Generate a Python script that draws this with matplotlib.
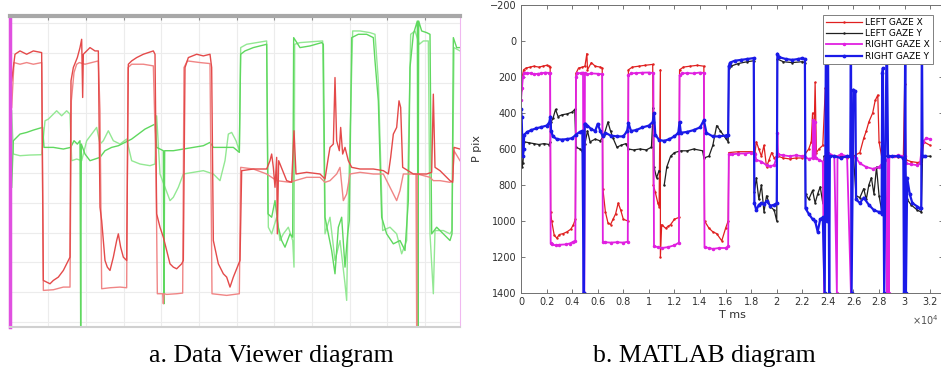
import matplotlib
matplotlib.use('Agg')
import matplotlib.pyplot as plt
import numpy as np

# ---- left panel (Data Viewer), values in the viewer's own screen units ----
red_a_x = [35, 40, 45, 60, 80, 100, 125, 130, 140, 150, 160, 175, 190, 200, 210, 213, 220, 232, 240, 245, 248, 250,
           260, 270, 285, 295, 300, 305, 315, 322, 330, 340, 350, 355, 362, 370, 380, 385, 395, 410, 430, 445, 460,
           465, 470, 480, 490, 500, 510, 520, 530, 545, 550, 555, 565, 590, 610, 630, 635, 640, 655, 670, 680, 690,
           700, 712, 720, 725, 760, 800, 810, 815, 820, 825, 830, 832, 836, 860, 875, 882, 888, 920, 960, 975, 985,
           990, 1000, 1005, 1010, 1018, 1022, 1028, 1035, 1045, 1055, 1080, 1120, 1150, 1165, 1172, 1180, 1190, 1197,
           1202, 1208, 1240, 1280, 1295, 1300, 1305, 1320, 1350, 1358, 1362, 1380]
red_a_y = [240, 200, 160, 150, 160, 150, 155, 840, 845, 850, 840, 830, 810, 790, 770, 240, 200, 170, 140, 115, 290, 160,
           150, 140, 150, 150, 620, 660, 780, 800, 810, 770, 720, 700, 740, 770, 780, 190, 180, 170, 160, 155, 150,
           160, 640, 680, 710, 750, 790, 800, 805, 790, 780, 200, 170, 160, 165, 160, 200, 720, 790, 820, 830, 860,
           830, 800, 780, 510, 505, 505, 480, 460, 500, 560, 470, 700, 480, 540, 545, 390, 520, 515, 520, 535, 470,
           440, 430, 230, 420, 450, 380, 460, 440, 480, 500, 505, 505, 510, 520, 470, 400, 380, 300,
           320, 500, 520, 520, 515, 280, 500, 510, 540, 545, 440, 445]

red_b_x = [35, 42, 60, 80, 100, 125, 130, 160, 190, 210, 214, 222, 230, 238, 255, 275, 295, 300, 305, 330, 360, 380,
           384, 395, 430, 460, 468, 472, 488, 490, 492, 500, 530, 548, 552, 562, 600, 630, 636, 680, 718, 722, 760,
           800, 830, 870, 885, 920, 960, 975, 990, 1010, 1020, 1030, 1040, 1050, 1080, 1120, 1150, 1170, 1190, 1200,
           1210, 1240, 1248, 1250, 1252, 1290, 1300, 1320, 1350, 1358, 1362, 1380]
red_b_y = [320, 185, 190, 185, 190, 185, 870, 868, 860, 860, 300, 215, 190, 185, 190, 185, 180, 330, 865, 862, 860, 862,
           200, 190, 190, 195, 500, 880, 880, 910, 880, 882, 880, 878, 200, 180, 185, 188, 880, 885, 880, 500, 505,
           520, 540, 545, 540, 530, 530, 545, 540, 520, 500, 600, 580, 520, 515, 520, 520, 560, 600, 570,
           520, 520, 520, 980, 520, 530, 540, 540, 545, 540, 450, 480]

green_a_x = [35, 40, 60, 80, 100, 120, 128, 132, 160, 190, 212, 222, 232, 240, 242, 244, 255, 270, 285, 300, 315, 335,
             355, 375, 395, 415, 435, 455, 465, 470, 490, 492, 494, 520, 550, 580, 610, 630, 640, 670, 700, 718, 722,
             735, 760, 800, 804, 815, 825, 835, 845, 855, 870, 878, 881, 900, 930, 965, 970, 975, 985, 995, 1005,
             1015, 1025, 1035, 1043, 1048, 1055, 1075, 1100, 1120, 1125, 1135, 1145, 1160, 1180, 1200, 1215, 1225,
             1230, 1240, 1252, 1254, 1256, 1265, 1280, 1290, 1295, 1310, 1330, 1350, 1356, 1360, 1370, 1380]
green_a_y = [560, 420, 400, 395, 388, 382, 380, 440, 440, 445, 440, 420, 430, 420, 980, 430, 460, 480, 475, 470, 450, 440,
             435, 425, 415, 400, 385, 375, 370, 440, 450, 910, 450, 450, 445, 440, 435, 425, 440, 440, 440, 455, 160,
             150, 140, 130, 640, 650, 600, 680, 720, 740, 700, 710, 110, 140, 135, 125, 130, 650, 700, 750, 820,
             680, 650, 800, 700, 660, 110, 100, 100, 110, 180, 300, 650, 700, 730, 720, 750, 600,
             200, 100, 60, 980, 60, 90, 95, 100, 700, 680, 700, 720, 700, 110, 140, 140]

green_b_x = [35, 40, 60, 90, 125, 135, 145, 160, 170, 185, 200, 210, 215, 230, 245, 260, 275, 290, 300, 310, 325, 340,
             360, 380, 395, 420, 450, 465, 470, 480, 495, 510, 520, 535, 550, 580, 610, 640, 660, 675, 685, 695, 708,
             718, 722, 740, 770, 800, 805, 815, 830, 840, 850, 865, 878, 882, 884, 900, 940, 968, 975, 990, 1005,
             1020, 1035, 1040, 1044, 1058, 1080, 1110, 1125, 1135, 1148, 1170, 1190, 1205, 1220, 1232, 1245, 1258,
             1270, 1285, 1290, 1300, 1305, 1330, 1350, 1356, 1362, 1380]
green_b_y = [330, 460, 465, 463, 462, 360, 355, 340, 330, 345, 330, 340, 480, 475, 480, 420, 400, 380, 430, 420, 390, 420,
             430, 415, 480, 490, 495, 490, 345, 520, 560, 600, 590, 560, 520, 515, 510, 520, 540, 480, 400, 395, 420,
             450, 140, 130, 125, 120, 680, 700, 650, 720, 700, 680, 720, 800, 130, 125, 122, 120, 700, 650, 780,
             720, 850, 900, 650, 90, 90, 95, 100, 240, 690, 680, 700, 760, 720, 100, 90, 130,
             120, 120, 700, 880, 690, 690, 700, 690, 140, 150]

# ---- right panel (MATLAB), time in units of 1e4 ms, position in pixels ----
lgx_t = [0.0, 0.01, 0.02, 0.04, 0.07, 0.1, 0.14, 0.17, 0.2, 0.22, 0.228, 0.232, 0.24, 0.26, 0.28, 0.3, 0.33, 0.36, 0.39,
         0.41, 0.425, 0.43, 0.45, 0.48, 0.5, 0.515, 0.52, 0.55, 0.58, 0.62, 0.635, 0.64, 0.66, 0.68, 0.7, 0.72, 0.74,
         0.76, 0.78, 0.8, 0.835, 0.84, 0.87, 0.92, 0.97, 1.03, 1.035, 1.05, 1.07, 1.08, 1.09, 1.09, 1.1, 1.13, 1.15,
         1.17, 1.2, 1.235, 1.24, 1.27, 1.32, 1.38, 1.43, 1.435, 1.47, 1.5, 1.53, 1.57, 1.6, 1.62, 1.625, 1.7, 1.8,
         1.83, 1.84, 1.86, 1.88, 1.9, 1.92, 1.94, 1.96, 1.98, 2.0, 2.01, 2.05, 2.1, 2.15, 2.2, 2.25, 2.27, 2.28, 2.29,
         2.3, 2.31, 2.33, 2.36, 2.38, 2.39, 2.45, 2.5, 2.55, 2.6, 2.65, 2.68, 2.7, 2.72, 2.75, 2.77, 2.79, 2.8, 2.82,
         2.9, 2.95, 2.99, 3.0, 3.01, 3.05, 3.1, 3.13, 3.15, 3.2]
lgx_y = [270, 200, 160, 150, 145, 140, 145, 140, 135, 140, 145, 950, 1000, 1080, 1095, 1075, 1070, 1060, 1045,
         1020, 990, 180, 150, 145, 140, 70, 160, 120, 140, 145, 150, 820, 950, 1010, 1020, 990, 960,
         900, 940, 990, 1000, 160, 145, 140, 135, 130, 800, 840, 900, 920, 160, 1200, 1020, 1040, 1030,
         1020, 990, 980, 160, 145, 140, 135, 140, 1000, 1040, 1060, 1070, 1110, 1040, 1000, 620, 615, 615,
         620, 560, 600, 640, 580, 700, 660, 620, 650, 640, 640, 650, 655, 650, 650, 600, 560, 400, 600,
         230, 620, 600, 580, 260, 640, 640, 640, 650, 640, 620, 540, 500, 450, 400, 330, 300, 560, 640,
         640, 645, 640, 240, 660, 670, 675, 670, 560, 580]

lgy_t = [0.0, 0.008, 0.015, 0.025, 0.06, 0.1, 0.14, 0.18, 0.22, 0.23, 0.235, 0.25, 0.27, 0.29, 0.32, 0.36, 0.4, 0.42,
         0.43, 0.46, 0.48, 0.5, 0.52, 0.54, 0.58, 0.62, 0.65, 0.68, 0.7, 0.72, 0.75, 0.78, 0.82, 0.84, 0.88, 0.93,
         0.98, 1.02, 1.035, 1.04, 1.06, 1.08, 1.09, 1.12, 1.14, 1.17, 1.2, 1.25, 1.3, 1.35, 1.42, 1.43, 1.47, 1.5,
         1.53, 1.56, 1.6, 1.62, 1.625, 1.64, 1.7, 1.77, 1.82, 1.825, 1.84, 1.86, 1.88, 1.9, 1.92, 1.95, 1.98, 2.0,
         2.005, 2.05, 2.12, 2.2, 2.22, 2.225, 2.25, 2.28, 2.3, 2.32, 2.34, 2.36, 2.37, 2.45, 2.55, 2.6, 2.62, 2.65,
         2.68, 2.7, 2.72, 2.74, 2.76, 2.78, 2.8, 2.82, 2.83, 2.95, 3.0, 3.02, 3.05, 3.1, 3.13, 3.14, 3.2]
lgy_y = [560, 700, 680, 560, 565, 570, 575, 570, 575, 560, 450, 430, 380, 420, 410, 405, 395, 380,
         590, 600, 610, 570, 500, 560, 545, 555, 520, 450, 500, 540, 590, 580, 570, 600, 605, 600,
         605, 590, 370, 700, 760, 720, np.nan, 800, 700, 640, 620, 610, 610, 600, 610, 650, 640, 580,
         470, 500, 540, 560, 150, 140, 125, 115, 110, 840, 760, 880, 800, 950, 860, 920, 940, 1000,
         100, 115, 120, 115, 120, 850, 880, 830, 900, 850, 810, 900, 640, 640, 640, 640, 860, 870,
         820, 880, 800, 760, 850, 700, 860, 940, 640, 640, 650, 880, 910, 940, 950, 640, 640]

rgx_t = [0.0, 0.008, 0.015, 0.025, 0.05, 0.08, 0.1, 0.13, 0.16, 0.19, 0.22, 0.228, 0.232, 0.24, 0.27, 0.3, 0.35, 0.38,
         0.41, 0.425, 0.43, 0.44, 0.47, 0.485, 0.49, 0.495, 0.5, 0.52, 0.55, 0.6, 0.635, 0.64, 0.66, 0.7, 0.75, 0.8,
         0.835, 0.84, 0.86, 0.9, 0.95, 1.0, 1.035, 1.04, 1.07, 1.1, 1.15, 1.2, 1.235, 1.24, 1.26, 1.3, 1.35, 1.4,
         1.43, 1.435, 1.47, 1.5, 1.55, 1.6, 1.62, 1.625, 1.65, 1.7, 1.75, 1.8, 1.83, 1.84, 1.88, 1.92, 1.95, 1.98,
         2.0, 2.005, 2.01, 2.05, 2.1, 2.15, 2.2, 2.22, 2.25, 2.28, 2.285, 2.29, 2.3, 2.305, 2.33, 2.36, 2.37, 2.375,
         2.4, 2.45, 2.47, 2.475, 2.5, 2.55, 2.58, 2.585, 2.62, 2.65, 2.7, 2.75, 2.8, 2.85, 2.86, 2.87, 2.875, 2.88,
         2.92, 2.95, 3.0, 3.01, 3.05, 3.1, 3.12, 3.14, 3.17, 3.2]
rgx_y = [330, 260, 200, 175, 180, 178, 185, 182, 180, 175, 178, 180, 1120, 1130, 1135, 1132, 1130, 1125,
         1115, 1110, 200, 180, 178, 175, 1400, 1400, 180, 185, 180, 182, 185, 1115, 1118, 1120, 1118, 1120,
         1115, 190, 180, 178, 176, 175, 178, 1140, 1145, 1150, 1145, 1135, 1120, 190, 180, 178, 180, 175,
         178, 1145, 1150, 1155, 1150, 1150, 1140, 630, 630, 625, 625, 620, 625, 660, 670, 690, 695, 690,
         640, 510, 630, 635, 640, 635, 640, 645, 655, 650, 440, 640, 450, 650, 660, 670, 1400, 650,
         620, 640, 1400, 640, 630, 640, 1400, 640, 650, 680, 700, 710, 700, 660, 1400, 650, 1400, 640,
         640, 635, 640, 680, 685, 690, 680, 560, 540, 545]

rgy_t = [0.0, 0.005, 0.01, 0.015, 0.02, 0.025, 0.05, 0.08, 0.12, 0.16, 0.2, 0.22, 0.23, 0.235, 0.25, 0.28, 0.32, 0.36,
         0.4, 0.43, 0.46, 0.48, 0.49, 0.492, 0.498, 0.5, 0.52, 0.55, 0.58, 0.6, 0.62, 0.64, 0.66, 0.7, 0.75, 0.8,
         0.83, 0.84, 0.86, 0.9, 0.95, 1.0, 1.03, 1.04, 1.05, 1.08, 1.12, 1.16, 1.2, 1.23, 1.24, 1.25, 1.3, 1.35,
         1.4, 1.43, 1.45, 1.5, 1.55, 1.6, 1.62, 1.625, 1.635, 1.67, 1.72, 1.77, 1.82, 1.825, 1.84, 1.86, 1.88, 1.9,
         1.92, 1.95, 1.98, 2.0, 2.005, 2.02, 2.07, 2.12, 2.17, 2.2, 2.22, 2.225, 2.25, 2.28, 2.3, 2.32, 2.34, 2.36,
         2.375, 2.385, 2.39, 2.40, 2.41, 2.415, 2.45, 2.5, 2.55, 2.575, 2.58, 2.585, 2.6, 2.615, 2.62, 2.65, 2.68,
         2.72, 2.76, 2.8, 2.82, 2.825, 2.83, 2.84, 2.86, 2.87, 2.9, 2.95, 2.99, 2.995, 3.005, 3.01, 3.02, 3.04,
         3.06, 3.1, 3.12, 3.13, 3.135, 3.14, 3.16]
rgy_y = [380, 420, 560, 640, 600, 520, 505, 495, 485, 478, 470, 455, 420, 500, 530, 545, 548, 545,
         540, 520, 505, 500, 1400, 1400, 460, 460, 470, 490, 500, 460, 500, 530, 510, 525, 530, 530,
         500, 455, 500, 495, 480, 470, 450, 400, 520, 550, 555, 545, 530, 510, 450, 510, 505, 495,
         480, 440, 510, 530, 530, 525, 520, 140, 120, 110, 105, 100, 95, 900, 940, 910, 900, 905,
         890, 915, 910, 900, 70, 90, 100, 105, 100, 95, 100, 930, 960, 990, 1000, 1060, 990, 980,
         1400, -100, 1000, -100, 1400, 640, 640, 650, 640, 640, -100, 1400, 270, 280, 880, 900, 870,
         910, 940, 950, 960, 180, 150, 1400, -100, 640, 640, 640, 650, 1400, -100, 1400, 760, 850,
         900, 920, 930, 930, -100, 640, 640]

fig = plt.figure(figsize=(9.41, 3.73), dpi=100)

# left: Data Viewer screenshot look
ax1 = fig.add_axes([10 / 941, 1 - 327 / 373, 450 / 941, 311 / 373])
ax1.plot(green_b_x, green_b_y, color='#93e893', lw=1.0)
ax1.plot(green_a_x, green_a_y, color='#5fd85f', lw=1.0)
ax1.plot(red_b_x, red_b_y, color='#f08585', lw=1.0)
ax1.plot(red_a_x, red_a_y, color='#e44a4a', lw=1.0)
ax1.set_xlim(30, 1380)
ax1.set_ylim(980, 45)
ax1.set_xticks(np.arange(145, 1380, 113))
ax1.set_yticks(np.arange(966, 45, -90))
ax1.grid(True, color='#ececec', lw=0.8)
ax1.tick_params(which='both', labelbottom=False, labelleft=False, left=False, bottom=False,
                top=True, direction='in', length=3, color='#909090')
ax1.spines['top'].set_color('#a8a8a8')
ax1.spines['top'].set_linewidth(3)
ax1.spines['left'].set_color('#e050e0')
ax1.spines['left'].set_linewidth(2.5)
ax1.spines['right'].set_color('#f0b8f0')
ax1.spines['bottom'].set_color('#d0d0d0')
ax1.spines['bottom'].set_linewidth(1.5)

# right: MATLAB figure look
ax2 = fig.add_axes([521 / 941, 1 - 293 / 373, 422 / 941, 288 / 373])
ax2.plot(lgx_t, lgx_y, color='#e02020', lw=0.9, marker='.', ms=1.5, label='LEFT GAZE X')
ax2.plot(lgy_t, lgy_y, color='#202020', lw=0.9, marker='.', ms=1.5, label='LEFT GAZE Y')
ax2.plot(rgx_t, rgx_y, color='#e020e0', lw=1.3, marker='.', ms=3, label='RIGHT GAZE X')
ax2.plot(rgy_t, rgy_y, color='#1a1ae8', lw=1.6, marker='.', ms=3.5, label='RIGHT GAZE Y')
ax2.set_xlim(0, 3.3)
ax2.set_ylim(1400, -200)
ax2.set_xticks(np.arange(0, 3.21, 0.2))
ax2.set_xticklabels(['0', '0.2', '0.4', '0.6', '0.8', '1', '1.2', '1.4', '1.6', '1.8', '2', '2.2', '2.4',
                     '2.6', '2.8', '3', '3.2'])
ax2.set_yticks(np.arange(-200, 1401, 200))
ax2.tick_params(direction='in', top=True, right=True, length=3, width=0.6, color='#606060',
                labelsize=7, labelcolor='#303030', pad=3)
for s in ax2.spines.values():
    s.set_color('#707070')
    s.set_linewidth(0.7)
ax2.set_xlabel('T ms', fontsize=8, color='#303030', labelpad=2)
ax2.set_ylabel('P pix', fontsize=8, color='#303030', labelpad=6)
fig.text(939 / 941, 1 - 320 / 373, '×10$^4$', fontsize=7, color='#505050', ha='right', va='center')
leg = ax2.legend(loc='upper right', bbox_to_anchor=(0.976, 0.966), borderaxespad=0, fontsize=6.5,
                 handlelength=4.0, fancybox=False, framealpha=1, edgecolor='#808080',
                 borderpad=0.35, labelspacing=0.25, handletextpad=0.3)
leg.get_frame().set_linewidth(0.7)

fig.text(271 / 941, 1 - 356 / 373, 'a. Data Viewer diagram', family='Liberation Serif',
         fontsize=18.5, ha='center', va='center')
fig.text(704 / 941, 1 - 356 / 373, 'b. MATLAB diagram', family='Liberation Serif',
         fontsize=18.5, ha='center', va='center')

fig.savefig('out.png', dpi=100)
